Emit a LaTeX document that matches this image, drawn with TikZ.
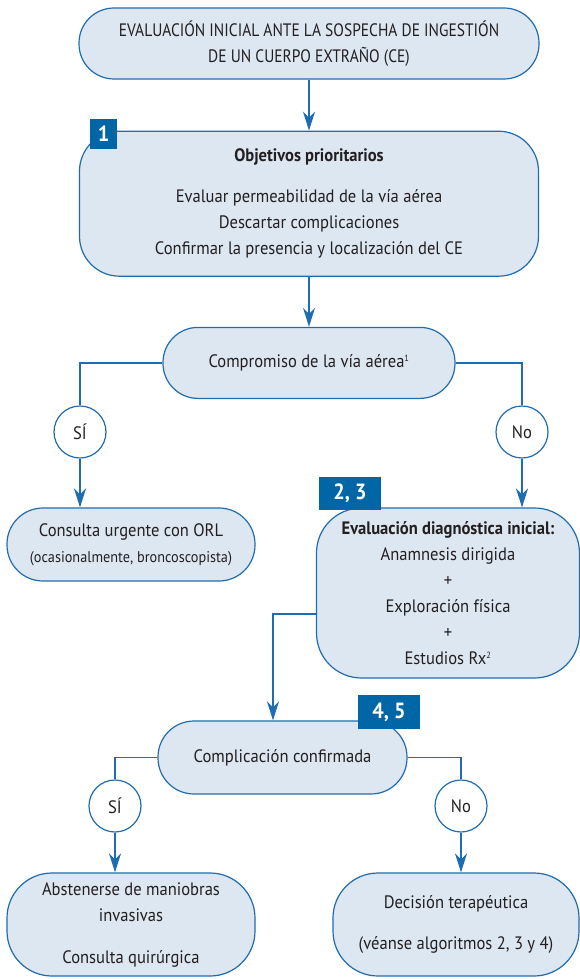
\documentclass[tikz,border=0pt]{standalone}
\usepackage{fontspec}
\setmainfont[FakeStretch=0.92]{PT Sans}
\newfontfamily\capsfont[FakeStretch=0.86]{PT Sans}
\usetikzlibrary{positioning}
\usetikzlibrary{arrows.meta}
\definecolor{boxblue}{HTML}{1F6CB0}
\definecolor{boxfill}{HTML}{DDE7F2}
\definecolor{tagblue}{HTML}{0066A6}
\definecolor{inktext}{HTML}{231F20}
\tikzset{x=1pt, y=-1pt, % one unit = one pixel of the reference, y going down
every node/.style={ % Text of all nodes
font=\fontsize{18}{26}\selectfont,
text=inktext},
block/.style={ % Rounded boxes
draw=boxblue, fill=boxfill,
line width=1.2pt,
align=center, inner sep=0pt},
answer/.style={ % SI / No circles
circle, draw=boxblue, fill=white,
line width=1.2pt,
minimum size=52pt, inner sep=0pt},
tag/.style={ % Blue number tags
fill=tagblue, text=white,
font=\bfseries\fontsize{22}{22}\selectfont,
inner sep=0pt},
link/.style={draw=boxblue, line width=1.5pt},
arrow/.style={link, -{Stealth[length=19pt,width=12pt,inset=6pt]}}}
\newcommand{\fnmark}[1]{\textsuperscript{\fontsize{9}{9}\selectfont #1}}

\begin{document}
\begin{tikzpicture}
	\useasboundingbox (0,0) rectangle (580,979);

	\node[block, minimum width=460pt, minimum height=71pt, rounded corners=35pt] (start) at (309,43.5)
		{\capsfont EVALUACIÓN INICIAL ANTE LA SOSPECHA DE INGESTIÓN\\\capsfont DE UN CUERPO EXTRAÑO (CE)};
	\node[block, minimum width=459pt, minimum height=145pt, rounded corners=40pt, below=51pt of start] (goals)
		{\textbf{Objetivos prioritarios}\\[15pt]Evaluar permeabilidad de la vía aérea\\Descartar complicaciones\\Confirmar la presencia y localización del CE};
	\node[tag, minimum width=27pt, minimum height=30pt] (tag1) at (103.5,134) {1};

	\node[block, minimum width=292pt, minimum height=71pt, rounded corners=35pt, below=50pt of goals] (airway)
		{Compromiso de la vía aérea\fnmark{1}};
	\node[answer] (yes1) at (80,432) {SÍ};
	\node[answer] (no1) at (522,432) {No};

	\node[block, minimum width=248pt, minimum height=73pt, rounded corners=36pt] (ent) at (131,544.5)
		{Consulta urgente con ORL\\{\fontsize{15.5}{26}\selectfont(ocasionalmente, broncoscopista)}};
	\node[block, minimum width=263pt, minimum height=170pt, rounded corners=45pt] (diag) at (448,593)
		{\textbf{Evaluación diagnóstica inicial:}\\Anamnesis dirigida\\+\\Exploración física\\+\\Estudios Rx\fnmark{2}};
	\node[tag, minimum width=62pt, minimum height=33pt] (tag23) at (350,493.5) {2, 3};

	\node[block, minimum width=249pt, minimum height=73pt, rounded corners=36pt] (compl) at (282.5,757.5)
		{Complicación confirmada};
	\node[tag, minimum width=62pt, minimum height=34pt] (tag45) at (389,712) {4, 5};
	\node[answer] (yes2) at (115,806) {SÍ};
	\node[answer] (no2) at (461,806) {No};

	\node[block, minimum width=248pt, minimum height=103pt, rounded corners=45pt] (abst) at (131,924.5)
		{Abstenerse de maniobras\\invasivas\\[16pt]Consulta quirúrgica};
	\node[block, minimum width=246pt, minimum height=103pt, rounded corners=45pt] (treat) at (456,924.5)
		{Decisión terapéutica\\[15pt](véanse algoritmos 2, 3 y 4)};

	% spine
	\draw[arrow] (start) -- (goals);
	\draw[arrow] (goals) -- (airway);

	% airway branches
	\draw[link] (airway.west) -| (yes1.north);
	\draw[link] (airway.east) -| (no1.north);
	\draw[arrow] (yes1.south) -- (yes1.south |- ent.north);
	\draw[arrow] (no1.south) -- (no1.south |- diag.north);

	\draw[arrow] ([yshift=-21pt]diag.west) -| ([xshift=-9.5pt]compl.north);

	% complication branches
	\draw[link] (compl.west) -| (yes2.north);
	\draw[link] (compl.east) -| (no2.north);
	\draw[arrow] (yes2.south) -- (yes2.south |- abst.north);
	\draw[arrow] (no2.south) -- (no2.south |- treat.north);
\end{tikzpicture}
\end{document}
